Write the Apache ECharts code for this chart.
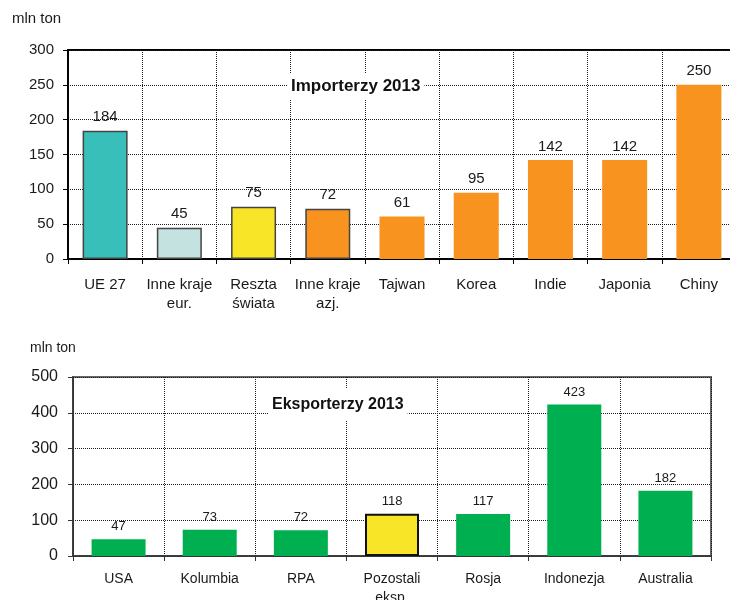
<!DOCTYPE html>
<html>
<head>
<meta charset="utf-8">
<script src="https://cdn.jsdelivr.net/npm/echarts@6/dist/echarts.min.js"></script>
<style>
  html, body { margin: 0; padding: 0; background: #fff; }
  #chart { width: 730px; height: 600px; }
</style>
</head>
<body>
<div id="chart"></div>
<script>
// Importers 2013 (mln ton)
const importCategories = ['UE 27', 'Inne kraje\neur.', 'Reszta\nświata', 'Inne kraje\nazj.', 'Tajwan', 'Korea', 'Indie', 'Japonia', 'Chiny'];
const importValues = [184, 45, 75, 72, 61, 95, 142, 142, 250];
const importTicks = { min: 0, max: 300, step: 50 };

// Exporters 2013 (mln ton)
const exportCategories = ['USA', 'Kolumbia', 'RPA', 'Pozostali\neksp.', 'Rosja', 'Indonezja', 'Australia'];
const exportValues = [47, 73, 72, 118, 117, 423, 182];
const exportTicks = { min: 0, max: 500, step: 100 };

const FONT = '"Liberation Sans", Arial, sans-serif';
const TXT = '#1a1a1a';

// bar fills / outlines per category
const ORANGE = '#F7931E';
const importFill = ['#38BFB9', '#C3E2E0', '#F9E528', ORANGE, ORANGE, ORANGE, ORANGE, ORANGE, ORANGE];
const importOutlined = [true, true, true, true, false, false, false, false, false];
const GREEN = '#00B050';
const exportFill = [GREEN, GREEN, GREEN, '#F9E528', GREEN, GREEN, GREEN];
const exportOutlined = [false, false, false, true, false, false, false];

const dotted = { show: true, lineStyle: { type: 'dotted', color: '#1e1e1e', width: 1 } };

const chart = echarts.init(document.getElementById('chart'), null, { renderer: 'canvas' });

chart.setOption({
  animation: false,
  backgroundColor: '#fff',
  textStyle: { fontFamily: FONT },
  title: [
    {
      text: 'Importerzy 2013', left: 287, top: 73,
      backgroundColor: '#fff', padding: [5, 4],
      textStyle: { fontFamily: FONT, fontSize: 17, fontWeight: 'bold', color: '#111' }
    },
    {
      text: 'Eksporterzy 2013', left: 268, top: 389,
      backgroundColor: '#fff', padding: [8, 4],
      textStyle: { fontFamily: FONT, fontSize: 16, fontWeight: 'bold', color: '#111' }
    }
  ],
  graphic: [
    { type: 'text', left: 12, top: 11, style: { text: 'mln ton', font: '15px ' + FONT, fill: TXT } },
    { type: 'text', left: 30, top: 341, style: { text: 'mln ton', font: '14px ' + FONT, fill: TXT } }
  ],
  grid: [
    { left: 68, top: 50, width: 668, height: 209, show: true, borderColor: '#000', borderWidth: 2,
      containLabel: false, outerBoundsMode: 'none' },
    { left: 73, top: 377, width: 638, height: 179, show: true, borderColor: '#666', borderWidth: 2,
      containLabel: false, outerBoundsMode: 'none' }
  ],
  xAxis: [
    {
      type: 'category', gridIndex: 0, data: importCategories,
      axisLine: { lineStyle: { color: '#000', width: 1.5 } },
      axisTick: { show: true, length: 5, lineStyle: { color: '#000' } },
      splitLine: Object.assign({ interval: 0 }, dotted),
      axisLabel: { interval: 0, margin: 16, fontSize: 15, lineHeight: 19, color: TXT, fontFamily: FONT }
    },
    {
      type: 'category', gridIndex: 1, data: exportCategories,
      axisLine: { lineStyle: { color: '#333', width: 1.5 } },
      axisTick: { show: true, length: 5, lineStyle: { color: '#333' } },
      splitLine: Object.assign({ interval: 0 }, dotted),
      axisLabel: { interval: 0, margin: 14, fontSize: 14, lineHeight: 19, color: TXT, fontFamily: FONT }
    }
  ],
  yAxis: [
    {
      type: 'value', gridIndex: 0, min: importTicks.min, max: importTicks.max, interval: importTicks.step,
      axisLine: { show: true, lineStyle: { color: '#000', width: 1.5 } },
      axisTick: { show: true, length: 5, lineStyle: { color: '#000' } },
      splitLine: dotted,
      axisLabel: { margin: 14, fontSize: 15, color: TXT, fontFamily: FONT }
    },
    {
      type: 'value', gridIndex: 1, min: exportTicks.min, max: exportTicks.max, interval: exportTicks.step,
      axisLine: { show: true, lineStyle: { color: '#333', width: 1.5 } },
      axisTick: { show: true, length: 5, lineStyle: { color: '#333' } },
      splitLine: dotted,
      axisLabel: { margin: 15, fontSize: 16, color: TXT, fontFamily: FONT }
    }
  ],
  series: [
    {
      type: 'bar', xAxisIndex: 0, yAxisIndex: 0, barWidth: 45,
      data: importValues.map((v, i) => ({
        value: v,
        itemStyle: {
          color: importFill[i],
          borderColor: importOutlined[i] ? '#444' : importFill[i],
          borderWidth: importOutlined[i] ? 1.5 : 0
        }
      })),
      label: { show: true, position: 'top', distance: 6, fontSize: 15, color: TXT, fontFamily: FONT }
    },
    {
      type: 'bar', xAxisIndex: 1, yAxisIndex: 1, barWidth: 54,
      data: exportValues.map((v, i) => ({
        value: v,
        itemStyle: {
          color: exportFill[i],
          borderColor: exportOutlined[i] ? '#111' : exportFill[i],
          borderWidth: exportOutlined[i] ? 2 : 0
        }
      })),
      label: { show: true, position: 'top', distance: 6, fontSize: 13, color: TXT, fontFamily: FONT }
    }
  ]
});
</script>
</body>
</html>
